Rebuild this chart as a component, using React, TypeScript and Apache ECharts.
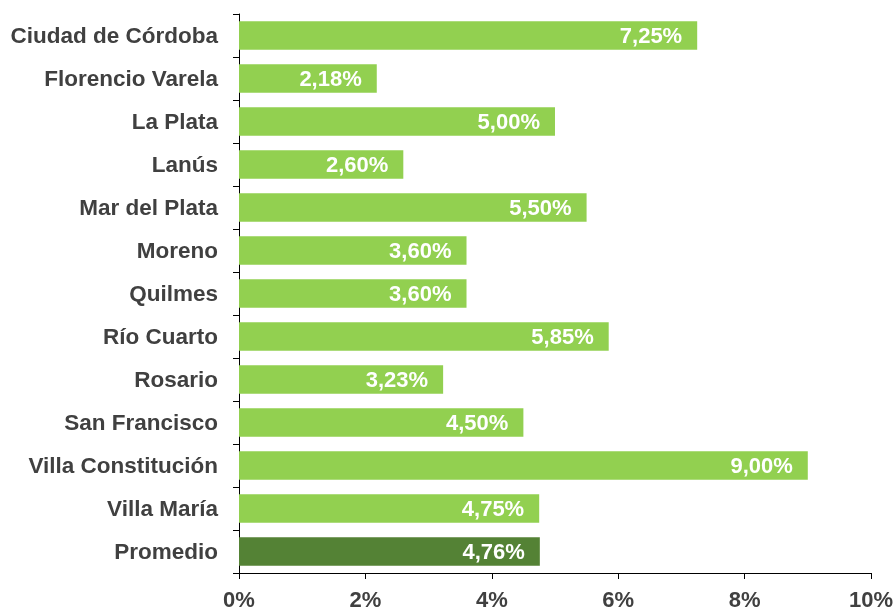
import React, { useEffect, useRef } from "react";
import * as echarts from "echarts";

const categories = [
  "Ciudad de Córdoba",
  "Florencio Varela",
  "La Plata",
  "Lanús",
  "Mar del Plata",
  "Moreno",
  "Quilmes",
  "Río Cuarto",
  "Rosario",
  "San Francisco",
  "Villa Constitución",
  "Villa María",
  "Promedio",
];
const values = [7.25, 2.18, 5.0, 2.6, 5.5, 3.6, 3.6, 5.85, 3.23, 4.5, 9.0, 4.75, 4.76];
const highlight = "Promedio";
const xTicks = { min: 0, max: 10, interval: 2 };

const FONT = "'Liberation Sans', Arial, sans-serif";

export default function App() {
  const ref = useRef<HTMLDivElement>(null);
  useEffect(() => {
    if (!ref.current) return;
    const chart = echarts.init(ref.current, undefined, { renderer: "svg" });
    chart.setOption({
      animation: false,
      grid: { left: 239, right: 24, top: 14, bottom: 37 },
      xAxis: {
        type: "value",
        min: xTicks.min,
        max: xTicks.max,
        interval: xTicks.interval,
        splitLine: { show: false },
        axisLine: { show: true, lineStyle: { color: "#000", width: 1 } },
        axisTick: { show: true, length: 6, lineStyle: { color: "#000" } },
        axisLabel: {
          formatter: (v: number) => `${v}%`,
          fontFamily: FONT,
          fontWeight: "bold",
          fontSize: 22,
          color: "#404040",
          margin: 15,
        },
      },
      yAxis: {
        type: "category",
        data: categories,
        inverse: true,
        axisLine: { show: true, lineStyle: { color: "#000", width: 1 } },
        axisTick: { show: true, length: 6, lineStyle: { color: "#000" } },
        axisLabel: {
          fontFamily: FONT,
          fontWeight: "bold",
          fontSize: 22.5,
          color: "#404040",
          margin: 21,
        },
      },
      series: [
        {
          type: "bar",
          data: values.map((v, i) => ({
            value: v,
            itemStyle: { color: categories[i] === highlight ? "#548235" : "#92D050" },
          })),
          barCategoryGap: "34%",
          label: {
            show: true,
            position: "insideRight",
            distance: 15,
            formatter: (p: any) => `${p.value.toFixed(2).replace(".", ",")}%`,
            fontFamily: FONT,
            fontWeight: "bold",
            fontSize: 22,
            color: "#fff",
          },
        },
      ],
    });
    return () => chart.dispose();
  }, []);
  return (
    <div
      ref={ref}
      style={{ position: "fixed", left: 0, top: 0, width: 896, height: 610 }}
    />
  );
}
